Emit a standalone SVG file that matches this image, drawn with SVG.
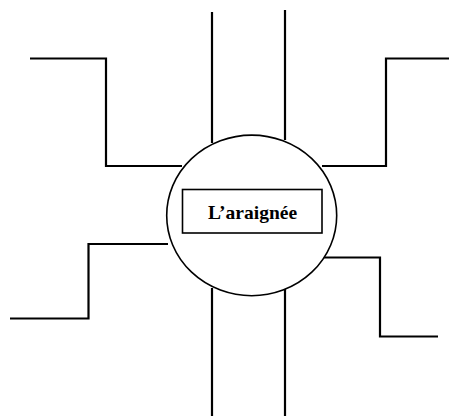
<svg xmlns="http://www.w3.org/2000/svg" width="449" height="416" viewBox="0 0 449 416">
<style>
.c{fill:none;stroke:#000;stroke-width:2.2;stroke-linejoin:miter;stroke-linecap:butt}
.n{fill:#fff;stroke:#000;stroke-width:1.6}
.t{font-family:"Liberation Serif","Times New Roman",serif;font-weight:bold;font-size:19.5px;fill:#000}
</style>
<rect width="449" height="416" fill="#fff"/>
<g id="connectors">
<polyline class="c" points="212,12 212,143"/>
<polyline class="c" points="285,10 285,140"/>
<polyline class="c" points="212,288 212,416"/>
<polyline class="c" points="285,287 285,416"/>
<polyline class="c" points="30,58.5 106,58.5 106,166 182,166"/>
<polyline class="c" points="449,58.5 386,58.5 386,166 322,166"/>
<polyline class="c" points="168,244 88.5,244 88.5,318.5 10,318.5"/>
<polyline class="c" points="324,257.5 380,257.5 380,336.5 438,336.5"/>
</g>
<g id="spider">
<ellipse class="n" cx="251.7" cy="215.4" rx="85" ry="80.3"/>
<rect class="n" x="182.5" y="189.5" width="139.5" height="43.5"/>
<text class="t" x="252.5" y="218.5" text-anchor="middle">L’araignée</text>
</g>
</svg>
